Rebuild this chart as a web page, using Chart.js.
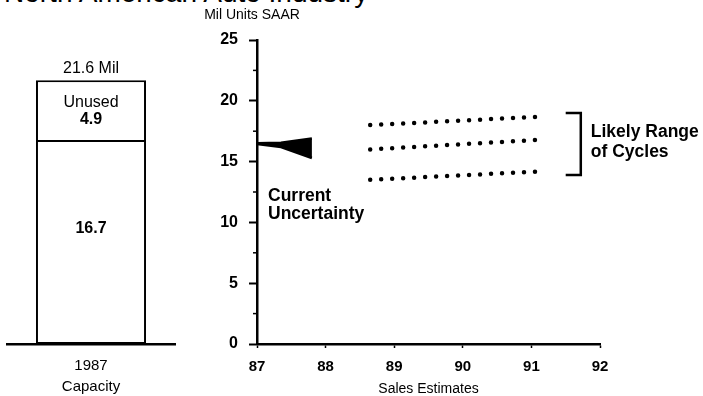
<!DOCTYPE html>
<html><head><meta charset="utf-8">
<script src="https://cdn.jsdelivr.net/npm/chart.js@4"></script>
<style>
html,body{margin:0;padding:0;background:#fff;width:703px;height:396px;overflow:hidden;position:relative}
#title{position:absolute;left:4px;top:-21px;font:28px "Liberation Sans",Arial,sans-serif;line-height:28px;white-space:nowrap;color:#000}
#c1{position:absolute;left:0;top:0}
#c2{position:absolute;left:190px;top:0}
</style></head><body>
<div id="title">North American Auto Industry</div>
<canvas id="c1" width="190" height="396"></canvas>
<canvas id="c2" width="513" height="396"></canvas>
<script>
// ---- data ----
const capacityCategory = [['1987', 'Capacity']];
const usedCapacity = [16.7];
const unusedCapacity = [4.9];
const totalCapacityLabel = '21.6 Mil';
const unusedLabel = ['Unused', '4.9'];
const usedLabel = '16.7';
const yTickValues = [0, 5, 10, 15, 20, 25];
const minorTickValues = [2.5, 7.5, 12.5, 17.5, 22.5];
const xTickLabels = { 87: '87', 88: '88', 89: '89', 90: '90', 91: '91', 92: '92' };
const wedgeX = [87.0, 87.35, 87.8];
const wedgeUpper = [16.5, 16.55, 16.9];
const wedgeLower = [16.45, 16.2, 15.3];
const cycleX = [88.65, 91.15];
const cycleHigh = [18.0, 18.7];
const cycleMid = [16.0, 16.8];
const cycleLow = [13.5, 14.2];
const bracketX = [91.5, 91.72, 91.72, 91.5];
const bracketY = [19.0, 19.0, 13.9, 13.9];
const yAxisCaption = 'Mil Units SAAR';
const xAxisCaption = 'Sales Estimates';
const uncertaintyText = ['Current', 'Uncertainty'];
const rangeText = ['Likely Range', 'of Cycles'];

const FONT = '"Liberation Sans", Arial, sans-serif';
const NARROW = '"Liberation Sans Narrow", "Liberation Sans", Arial, sans-serif';
Chart.defaults.font.family = FONT;
Chart.defaults.color = '#000';
Chart.defaults.animation = false;

// ---- left: capacity bar ----
const barLabels = {
  id: 'barLabels',
  afterDatasetsDraw(chart) {
    const ctx = chart.ctx;
    const used = chart.getDatasetMeta(0).data[0];
    const unused = chart.getDatasetMeta(1).data[0];
    ctx.save();
    ctx.fillStyle = '#000';
    ctx.textAlign = 'center';
    ctx.textBaseline = 'middle';
    ctx.font = '16px ' + FONT;
    ctx.fillText(totalCapacityLabel, unused.x, unused.y - 12);
    const midU = (unused.y + unused.base) / 2;
    ctx.fillText(unusedLabel[0], unused.x, midU - 8);
    ctx.font = 'bold 16px ' + FONT;
    ctx.fillText(unusedLabel[1], unused.x, midU + 9);
    ctx.fillText(usedLabel, used.x, (used.y + used.base) / 2 - 13);
    ctx.restore();
  }
};

const barStyle = { backgroundColor: '#fff', borderColor: '#000', borderWidth: 2, barPercentage: 0.655, categoryPercentage: 1 };
new Chart(document.getElementById('c1'), {
  type: 'bar',
  data: {
    labels: capacityCategory,
    datasets: [
      Object.assign({ label: 'Used', data: usedCapacity, borderSkipped: false }, barStyle),
      Object.assign({ label: 'Unused', data: unusedCapacity, borderSkipped: 'bottom' }, barStyle)
    ]
  },
  options: {
    responsive: false, animation: false,
    layout: { padding: { left: 7, right: 15, top: 40, bottom: 0 } },
    plugins: { legend: { display: false }, tooltip: { enabled: false } },
    scales: {
      x: {
        stacked: true,
        grid: { display: false },
        border: { display: true, color: '#000', width: 2.5 },
        ticks: { font: { size: 15, lineHeight: 1.35 }, padding: 4, color: '#000' },
        afterFit: s => { s.height = 52; }
      },
      y: { stacked: true, display: false, min: 0, max: 24.9 }
    }
  },
  plugins: [barLabels]
});

// ---- right: sales estimates ----
const extras = {
  id: 'extras',
  afterDraw(chart) {
    const ctx = chart.ctx, xs = chart.scales.x, ys = chart.scales.y;
    ctx.save();
    ctx.strokeStyle = '#000';
    ctx.lineWidth = 1.5;
    for (const v of minorTickValues) {
      const py = ys.getPixelForValue(v);
      ctx.beginPath(); ctx.moveTo(xs.left - 4, py); ctx.lineTo(xs.left, py); ctx.stroke();
    }
    ctx.fillStyle = '#000';
    ctx.textBaseline = 'middle';
    ctx.textAlign = 'center';
    ctx.font = '14px ' + NARROW;
    ctx.fillText(yAxisCaption, xs.left - 5, 15);
    ctx.textAlign = 'left';
    ctx.font = 'bold 17.5px ' + FONT;
    const ux = xs.getPixelForValue(87) + 11;
    ctx.fillText(uncertaintyText[0], ux, 196);
    ctx.fillText(uncertaintyText[1], ux, 214);
    const rx = xs.getPixelForValue(91.72) + 10;
    ctx.fillText(rangeText[0], rx, 132);
    ctx.fillText(rangeText[1], rx, 152);
    ctx.restore();
  }
};

const pts = (xa, ya) => xa.map((x, i) => ({ x, y: ya[i] }));
const dotted = { showLine: true, borderColor: '#000', borderWidth: 4.5, borderDash: [0, 11], borderCapStyle: 'round', pointRadius: 0, fill: false };
new Chart(document.getElementById('c2'), {
  type: 'scatter',
  data: {
    datasets: [
      { data: pts(wedgeX, wedgeUpper), showLine: true, borderColor: '#000', borderWidth: 2.5, pointRadius: 0, fill: false },
      { data: pts(wedgeX, wedgeLower), showLine: true, borderColor: '#000', borderWidth: 2.5, pointRadius: 0, fill: '-1', backgroundColor: '#000' },
      Object.assign({ data: pts(cycleX, cycleHigh) }, dotted),
      Object.assign({ data: pts(cycleX, cycleMid) }, dotted),
      Object.assign({ data: pts(cycleX, cycleLow) }, dotted),
      { data: pts(bracketX, bracketY), showLine: true, borderColor: '#000', borderWidth: 2.5, pointRadius: 0, fill: false, tension: 0 }
    ]
  },
  options: {
    responsive: false, animation: false,
    layout: { padding: { left: 0, right: 103, top: 40, bottom: 0 } },
    plugins: { legend: { display: false }, tooltip: { enabled: false } },
    scales: {
      x: {
        type: 'linear', min: 87, max: 92,
        ticks: { stepSize: 1, callback: v => xTickLabels[v] ?? '', padding: 10, font: { size: 15, weight: 'bold', family: NARROW }, color: '#000', maxRotation: 0 },
        grid: { drawOnChartArea: false, tickLength: 4, tickWidth: 1.5, tickColor: '#000' },
        border: { color: '#000', width: 2.5 },
        title: { display: true, text: xAxisCaption, font: { size: 14, lineHeight: 1 }, padding: 0, color: '#000' },
        afterFit: s => { s.height = 52; }
      },
      y: {
        min: 0, max: 25,
        afterBuildTicks: s => { s.ticks = yTickValues.map(v => ({ value: v })); },
        ticks: { padding: 11, font: { size: 16, weight: 'bold', family: NARROW }, color: '#000' },
        grid: { drawOnChartArea: false, tickLength: 8, tickWidth: 2, tickColor: '#000' },
        border: { color: '#000', width: 2.5 },
        afterFit: s => { s.width = 67; }
      }
    }
  },
  plugins: [extras]
});
</script>
</body></html>
